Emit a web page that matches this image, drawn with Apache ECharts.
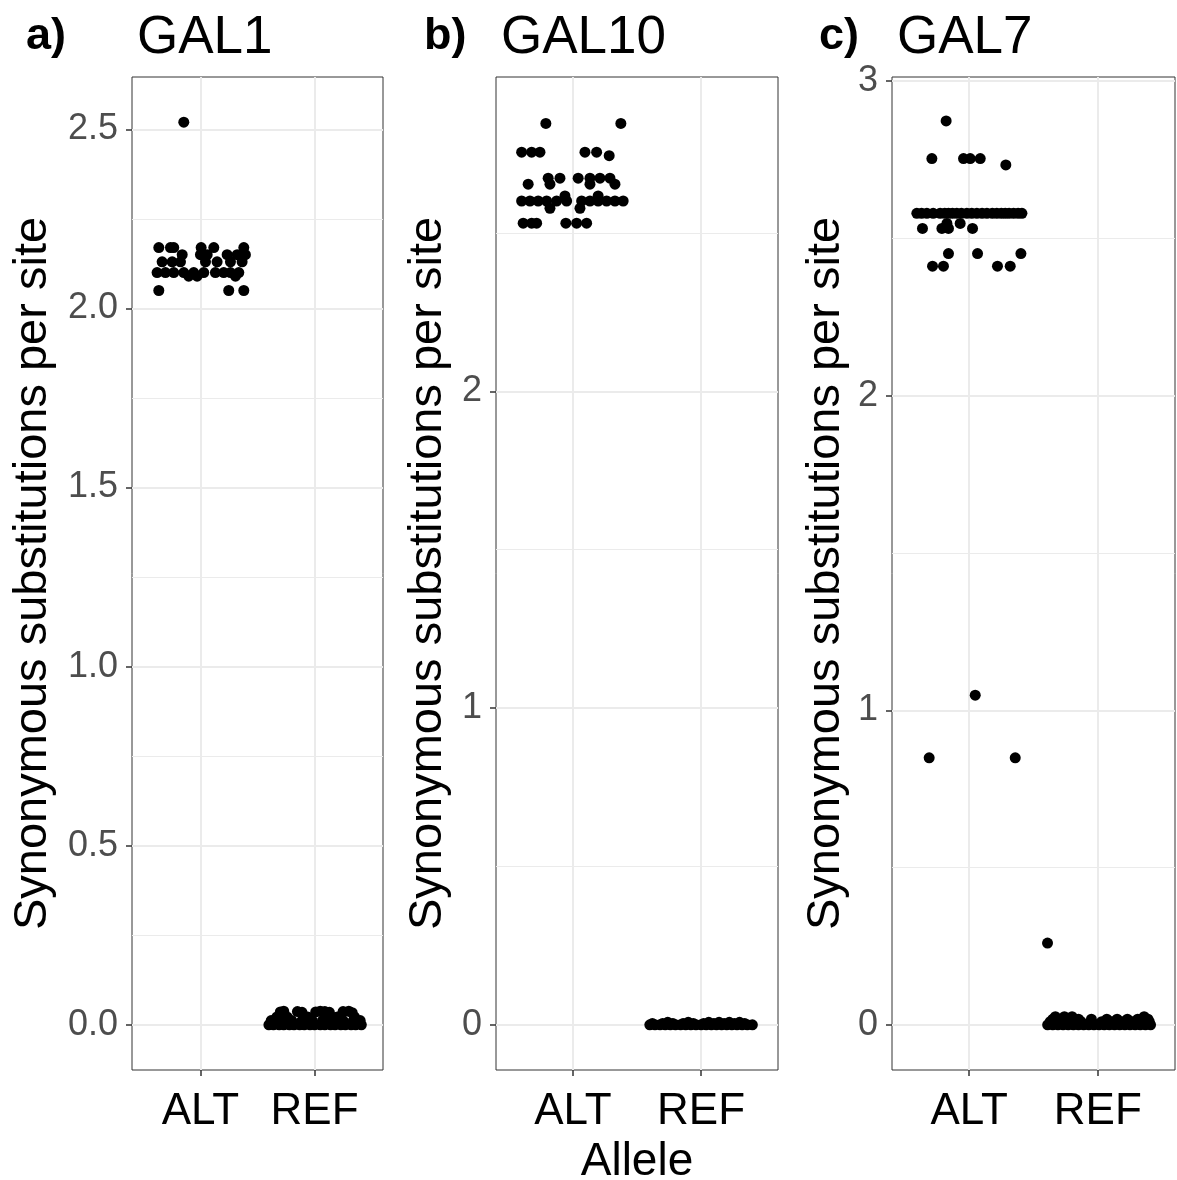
<!DOCTYPE html>
<html>
<head>
<meta charset="utf-8">
<title>GAL synonymous substitutions</title>
<script src="https://cdn.jsdelivr.net/npm/echarts@6.0.0/dist/echarts.min.js"></script>
<style>
  html, body { margin: 0; padding: 0; background: #fff; }
  #main { width: 1177px; height: 1180px; }
</style>
</head>
<body>
<div id="main"></div>
<script>
var alleles = ['ALT', 'REF'];
var tags = ['a)', 'b)', 'c)'];
var genes = ['GAL1', 'GAL10', 'GAL7'];
var yTitle = 'Synonymous substitutions per site';

// y axis ticks per panel
var gal1Ticks = [0, 0.5, 1, 1.5, 2, 2.5];
var gal1Minor = [0.25, 0.75, 1.25, 1.75, 2.25];
var gal10Ticks = [0, 1, 2];
var gal10Minor = [0.5, 1.5, 2.5];
var gal7Ticks = [0, 1, 2, 3];
var gal7Minor = [0.5, 1.5, 2.5];

// GAL1 - jitter offset around the allele position, and dS value
var gal1AltJitter = [-0.146,
  -0.365, -0.263, -0.234, 0.006, 0.117, 0.38,
  -0.16, 0.0, 0.059, 0.234, 0.322, 0.394,
  -0.336, -0.248, -0.175, 0.044, 0.146, 0.263, 0.365,
  -0.38, -0.307, -0.234, -0.146, -0.059, 0.029, 0.131, 0.204, 0.263, 0.336,
  -0.103, -0.029, 0.307,
  -0.365, 0.248, 0.38];
var gal1AltValue = [2.52,
  2.17, 2.17, 2.17, 2.17, 2.17, 2.17,
  2.15, 2.15, 2.15, 2.15, 2.15, 2.15,
  2.13, 2.13, 2.13, 2.13, 2.13, 2.13, 2.13,
  2.10, 2.10, 2.10, 2.10, 2.10, 2.10, 2.10, 2.10, 2.10, 2.10,
  2.09, 2.09, 2.09,
  2.05, 2.05, 2.05];
var gal1RefJitter = [-0.40, -0.36, -0.31, -0.27, -0.22, -0.18, -0.13, -0.09, -0.04, 0.0, 0.05, 0.09, 0.14, 0.18, 0.23, 0.27, 0.32, 0.36, 0.41,
  -0.38, -0.29, -0.2, -0.11, -0.02, 0.07, 0.16, 0.25, 0.34, 0.40,
  -0.33, -0.24, -0.06, 0.12, 0.2, 0.35,
  -0.30, -0.27, -0.15, -0.11, 0.01, 0.05, 0.09, 0.13, 0.25, 0.30, 0.33];
var gal1RefValue = [0, 0, 0, 0, 0, 0, 0, 0, 0, 0, 0, 0, 0, 0, 0, 0, 0, 0, 0,
  0.012, 0.012, 0.012, 0.012, 0.012, 0.012, 0.012, 0.012, 0.012, 0.012,
  0.022, 0.022, 0.022, 0.022, 0.022, 0.022,
  0.036, 0.038, 0.037, 0.035, 0.036, 0.038, 0.037, 0.035, 0.037, 0.038, 0.034];

// GAL10
var gal10AltJitter = [-0.211, 0.374,
  -0.4, -0.322, -0.257, 0.094, 0.185,
  0.283,
  -0.193, -0.101, 0.041, 0.133, 0.211, 0.289,
  -0.349, -0.179, 0.133, 0.328,
  -0.062, 0.197,
  -0.4, -0.335, -0.271, -0.205, -0.127, -0.049, 0.068, 0.133, 0.197, 0.263, 0.328, 0.392,
  -0.179, 0.055,
  -0.388, -0.322, -0.283, -0.055, 0.029, 0.107];
var gal10AltValue = [2.846, 2.846,
  2.755, 2.755, 2.755, 2.755, 2.755,
  2.744,
  2.673, 2.673, 2.673, 2.673, 2.673, 2.673,
  2.654, 2.654, 2.654, 2.654,
  2.617, 2.617,
  2.601, 2.601, 2.601, 2.601, 2.601, 2.601, 2.601, 2.601, 2.601, 2.601, 2.601, 2.601,
  2.578, 2.578,
  2.531, 2.531, 2.531, 2.531, 2.531, 2.531];
var gal10RefJitter = [-0.40, -0.36, -0.32, -0.28, -0.24, -0.20, -0.16, -0.12, -0.08, -0.04, 0, 0.04, 0.08, 0.12, 0.16, 0.20, 0.24, 0.28, 0.32, 0.36, 0.40,
  -0.38, -0.3, -0.22, -0.14, -0.06, 0.02, 0.10, 0.18, 0.26, 0.34,
  -0.26, -0.1, 0.06, 0.14, 0.22, 0.3];
var gal10RefValue = [0, 0, 0, 0, 0, 0, 0, 0, 0, 0, 0, 0, 0, 0, 0, 0, 0, 0, 0, 0, 0,
  0.004, 0.004, 0.004, 0.004, 0.004, 0.004, 0.004, 0.004, 0.004, 0.004,
  0.008, 0.008, 0.008, 0.008, 0.008, 0.008];

// GAL7
var gal7AltJitter = [-0.179,
  -0.29, -0.044, 0.008, 0.086,
  0.285,
  -0.407, -0.37, -0.329, -0.28, -0.226, -0.19, -0.161, -0.13, -0.096, -0.06, -0.018, 0.02, 0.06, 0.1, 0.138, 0.18, 0.215, 0.25, 0.28, 0.31, 0.345, 0.38, 0.41,
  -0.173, -0.07,
  -0.363, -0.212, -0.161, 0.026,
  -0.161, 0.065, 0.402,
  -0.285, -0.2, 0.22, 0.319,
  0.047,
  -0.311, 0.358];
var gal7AltValue = [2.874,
  2.754, 2.754, 2.754, 2.754,
  2.734,
  2.58, 2.58, 2.58, 2.58, 2.58, 2.58, 2.58, 2.58, 2.58, 2.58, 2.58, 2.58, 2.58, 2.58, 2.58, 2.58, 2.58, 2.58, 2.58, 2.58, 2.58, 2.58, 2.58,
  2.548, 2.548,
  2.532, 2.532, 2.532, 2.532,
  2.452, 2.452, 2.452,
  2.412, 2.412, 2.412, 2.412,
  1.048,
  0.849, 0.849];
var gal7RefJitter = [-0.391,
  -0.39, -0.35, -0.31, -0.27, -0.23, -0.19, -0.15, -0.11, -0.07, -0.03, 0.01, 0.05, 0.09, 0.13, 0.17, 0.21, 0.25, 0.29, 0.33, 0.37, 0.41,
  -0.37, -0.29, -0.21, -0.13, -0.05, 0.03, 0.11, 0.19, 0.27, 0.35, 0.40,
  -0.35, -0.25, -0.15, -0.05, 0.07, 0.15, 0.23, 0.31, 0.39,
  -0.33, -0.26, -0.2, 0.36];
var gal7RefValue = [0.26,
  0, 0, 0, 0, 0, 0, 0, 0, 0, 0, 0, 0, 0, 0, 0, 0, 0, 0, 0, 0, 0,
  0.01, 0.01, 0.01, 0.01, 0.01, 0.01, 0.01, 0.01, 0.01, 0.01, 0.01,
  0.018, 0.018, 0.018, 0.018, 0.018, 0.018, 0.018, 0.018, 0.018,
  0.026, 0.026, 0.026, 0.026];

var font = 'Liberation Sans, Arial, Helvetica, sans-serif';

var panels = [
  { alt: [gal1AltJitter, gal1AltValue], ref: [gal1RefJitter, gal1RefValue], ticks: gal1Ticks, minor: gal1Minor,
    ymin: -0.126, ymax: 2.646, digits: 1, left: 132, width: 251, nameGap: 75, tagLeft: 21 },
  { alt: [gal10AltJitter, gal10AltValue], ref: [gal10RefJitter, gal10RefValue], ticks: gal10Ticks, minor: gal10Minor,
    ymin: -0.1425, ymax: 2.9925, digits: 0, left: 496, width: 282, nameGap: 44, tagLeft: 419 },
  { alt: [gal7AltJitter, gal7AltValue], ref: [gal7RefJitter, gal7RefValue], ticks: gal7Ticks, minor: gal7Minor,
    ymin: -0.1435, ymax: 3.0135, digits: 0, left: 892, width: 283, nameGap: 42, tagLeft: 814 }
];

function points(pair, pos) {
  return pair[0].map(function (d, k) { return [pos + d, pair[1][k]]; });
}

var grids = [], xAxes = [], yAxes = [], series = [], titles = [];

panels.forEach(function (p, i) {
  grids.push({
    left: p.left, top: 77, width: p.width, height: 993,
    outerBoundsMode: 'none', containLabel: false,
    show: true, borderColor: '#333', borderWidth: 1, backgroundColor: 'transparent'
  });
  xAxes.push({
    type: 'value', gridIndex: i, min: 0.4, max: 2.6, position: 'bottom',
    axisLine: { show: false, onZero: false },
    axisTick: { show: true, length: 6, customValues: [1, 2], lineStyle: { color: '#333', width: 1.5 } },
    axisLabel: {
      customValues: [1, 2], margin: 20, fontSize: 44, color: '#000', fontFamily: font,
      formatter: function (v) { return alleles[Math.round(v) - 1]; }
    },
    splitLine: { show: true, lineStyle: { color: '#ebebeb', width: 2 } },
    name: i === 1 ? 'Allele' : '', nameLocation: 'middle', nameGap: 66,
    nameTextStyle: { fontSize: 46, color: '#000', fontFamily: font }
  });
  // major axis
  yAxes.push({
    type: 'value', gridIndex: i, min: p.ymin, max: p.ymax, position: 'left',
    axisLine: { show: false, onZero: false },
    axisTick: { show: true, length: 6, customValues: p.ticks, lineStyle: { color: '#333', width: 1.5 } },
    axisLabel: {
      customValues: p.ticks, margin: 14, fontSize: 36, color: '#4d4d4d', fontFamily: font,
      formatter: (function (dg) { return function (v) { return v.toFixed(dg); }; })(p.digits)
    },
    splitLine: { show: true, lineStyle: { color: '#ebebeb', width: 2 } },
    name: yTitle, nameLocation: 'middle', nameGap: p.nameGap, nameRotate: 90,
    nameTextStyle: { fontSize: 47, color: '#000', fontFamily: font }
  });
  // minor grid lines
  yAxes.push({
    type: 'value', gridIndex: i, min: p.ymin, max: p.ymax, position: 'left',
    axisLine: { show: false, onZero: false },
    axisTick: { show: false, customValues: p.minor },
    axisLabel: { show: false },
    splitLine: { show: true, lineStyle: { color: '#ebebeb', width: 1 } }
  });
  series.push({
    type: 'scatter', xAxisIndex: i, yAxisIndex: i * 2,
    symbol: 'circle', symbolSize: 11,
    itemStyle: { color: '#000', opacity: 1 },
    data: points(p.alt, 1).concat(points(p.ref, 2))
  });
  titles.push({
    text: tags[i], left: p.tagLeft, top: 9,
    textStyle: { fontSize: 45, fontWeight: 'bold', color: '#000', fontFamily: font, lineHeight: 45 }
  });
  titles.push({
    text: genes[i], left: p.left, top: 7,
    textStyle: { fontSize: 53, fontWeight: 'normal', color: '#000', fontFamily: font, lineHeight: 53 }
  });
});

var chart = echarts.init(document.getElementById('main'));
chart.setOption({
  animation: false,
  backgroundColor: '#fff',
  title: titles,
  grid: grids,
  xAxis: xAxes,
  yAxis: yAxes,
  series: series
});
</script>
</body>
</html>
